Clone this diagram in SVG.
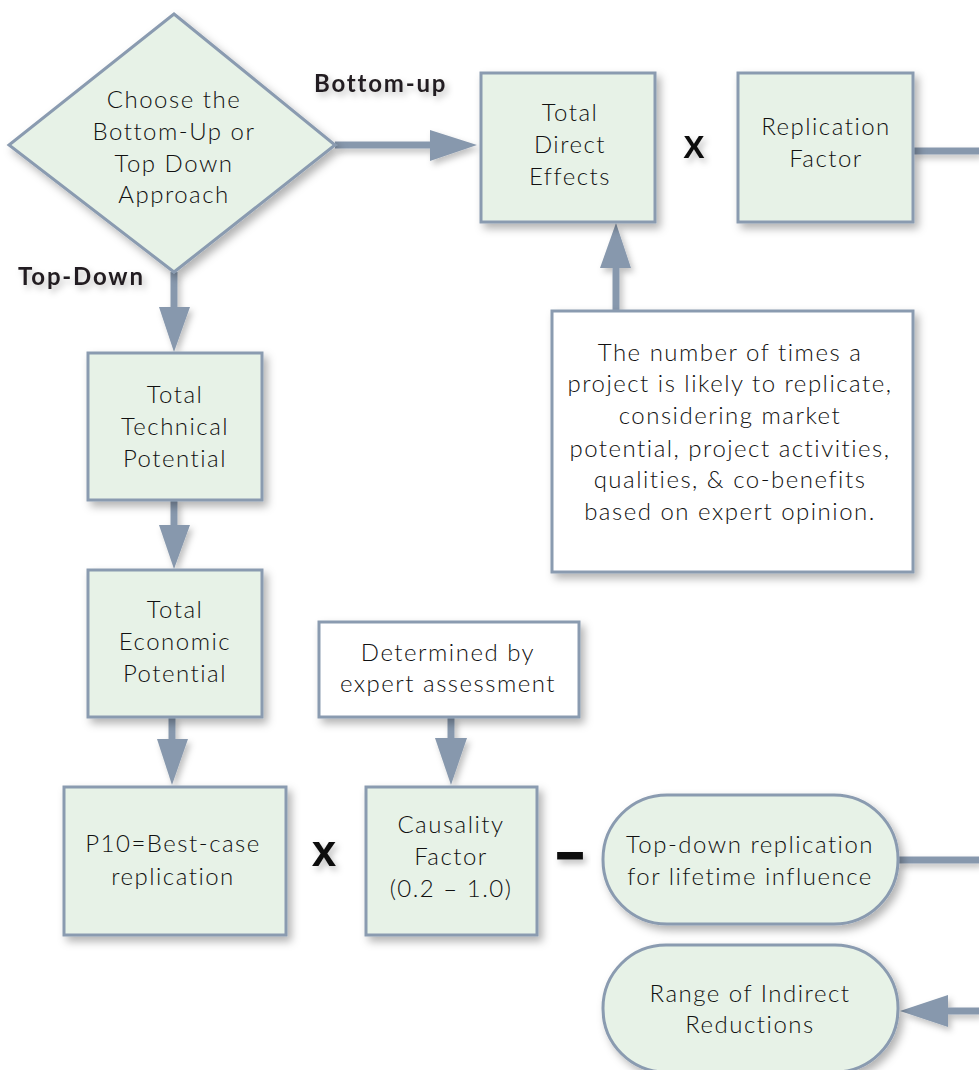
<svg xmlns="http://www.w3.org/2000/svg" width="979" height="1070" viewBox="0 0 979 1070">
<defs>
<filter id="sh" x="-20%" y="-20%" width="150%" height="150%">
<feDropShadow dx="4" dy="5" stdDeviation="4" flood-color="#000" flood-opacity="0.3"/>
</filter>
<filter id="tsh" x="-30%" y="-30%" width="160%" height="160%">
<feDropShadow dx="3" dy="4" stdDeviation="3" flood-color="#000" flood-opacity="0.25"/>
</filter>
<style>
.box{fill:#e7f2e7;stroke:#8a9bb0;stroke-width:3;filter:url(#sh)}
.wbox{fill:#ffffff;stroke:#8a9bb0;stroke-width:3;filter:url(#sh)}
.t{font-family:Lato,"Open Sans","Liberation Sans",sans-serif;font-weight:300;font-size:24px;letter-spacing:1.5px;font-variant-ligatures:none;fill:#111111;text-anchor:middle}
.lbl{font-family:Lato,"Liberation Sans",sans-serif;font-weight:bold;font-size:24px;letter-spacing:1.8px;fill:#231f20;filter:url(#tsh)}
.op{font-family:"Liberation Sans",Arial,sans-serif;font-weight:bold;fill:#111;text-anchor:middle;filter:url(#tsh)}
.ln{stroke:#8798ad;stroke-width:7;fill:none}
.hd{fill:#8798ad}
</style>
</defs>
<rect width="979" height="1070" fill="#ffffff"/>

<g id="connectors" filter="url(#tsh)">
<line class="ln" x1="335" y1="145" x2="432" y2="145"/>
<polygon class="hd" points="430,130 477,145 430,161"/>
<line class="ln" x1="174" y1="272" x2="174" y2="310"/>
<polygon class="hd" points="159,307 174,352 190,307"/>
<line class="ln" x1="174" y1="500" x2="174" y2="527"/>
<polygon class="hd" points="159,525 174,569 190,525"/>
<line class="ln" x1="172" y1="717" x2="172" y2="741"/>
<polygon class="hd" points="157,739 172,785 188,739"/>
<line class="ln" x1="451" y1="717" x2="451" y2="740"/>
<polygon class="hd" points="435,738 451,785 467,738"/>
<line class="ln" x1="616" y1="311" x2="616" y2="266"/>
<polygon class="hd" points="600,268 616,223 631,268"/>
<line class="ln" x1="913" y1="151" x2="979" y2="151"/>
<line class="ln" x1="898" y1="860" x2="979" y2="860"/>
<line class="ln" x1="979" y1="1011" x2="946" y2="1011"/>
<polygon class="hd" points="948,995 900,1011 948,1027"/>
</g>

<g id="choose">
<polygon class="box" points="174,14 335,145 174,272 9,145"/>
<text class="t" x="174" y="108">Choose the</text>
<text class="t" x="174" y="140">Bottom-Up or</text>
<text class="t" x="174" y="172">Top Down</text>
<text class="t" x="174" y="203">Approach</text>
</g>

<g id="label-bottom-up"><text class="lbl" x="314" y="92">Bottom-up</text></g>
<g id="label-top-down"><text class="lbl" x="18" y="285">Top-Down</text></g>

<g id="direct-effects">
<rect class="box" x="481" y="73" width="174" height="149"/>
<text class="t" x="570" y="121">Total</text>
<text class="t" x="570" y="153">Direct</text>
<text class="t" x="570" y="185">Effects</text>
</g>

<g id="op-times-top"><text class="op" x="694" y="158" font-size="32">X</text></g>

<g id="replication-factor">
<rect class="box" x="738" y="73" width="175" height="149"/>
<text class="t" x="826" y="135">Replication</text>
<text class="t" x="826" y="167">Factor</text>
</g>

<g id="explanation">
<rect class="wbox" x="552" y="311" width="361" height="261"/>
<text class="t" x="730" y="361">The number of times a</text>
<text class="t" x="730" y="392">project is likely to replicate,</text>
<text class="t" x="730" y="424">considering market</text>
<text class="t" x="730" y="457">potential, project activities,</text>
<text class="t" x="730" y="488">qualities, &amp; co-benefits</text>
<text class="t" x="730" y="520">based on expert opinion.</text>
</g>

<g id="technical">
<rect class="box" x="88" y="353" width="174" height="147"/>
<text class="t" x="175" y="403">Total</text>
<text class="t" x="175" y="435">Technical</text>
<text class="t" x="175" y="467">Potential</text>
</g>

<g id="economic">
<rect class="box" x="88" y="570" width="174" height="147"/>
<text class="t" x="175" y="618">Total</text>
<text class="t" x="175" y="650">Economic</text>
<text class="t" x="175" y="682">Potential</text>
</g>

<g id="p10">
<rect class="box" x="64" y="787" width="222" height="148"/>
<text class="t" x="173" y="852">P10=Best-case</text>
<text class="t" x="173" y="885">replication</text>
</g>

<g id="op-times-bottom"><text class="op" x="324" y="866" font-size="44">x</text></g>

<g id="determined">
<rect class="wbox" x="319" y="622" width="260" height="95"/>
<text class="t" x="448" y="661">Determined by</text>
<text class="t" x="448" y="692">expert assessment</text>
</g>

<g id="causality">
<rect class="box" x="366" y="787" width="171" height="148"/>
<text class="t" x="451" y="833">Causality</text>
<text class="t" x="451" y="865">Factor</text>
<text class="t" x="451" y="897">(0.2 – 1.0)</text>
</g>

<g id="op-minus"><text class="op" x="570" y="868" font-size="46" stroke="#111" stroke-width="3">–</text></g>

<g id="top-down-replication">
<rect class="box" x="603" y="795" width="295" height="129" rx="64" ry="64"/>
<text class="t" x="750" y="853">Top-down replication</text>
<text class="t" x="750" y="885">for lifetime influence</text>
</g>

<g id="range">
<rect class="box" x="603" y="945" width="295" height="127" rx="63" ry="63"/>
<text class="t" x="750" y="1002">Range of Indirect</text>
<text class="t" x="750" y="1033">Reductions</text>
</g>
</svg>
